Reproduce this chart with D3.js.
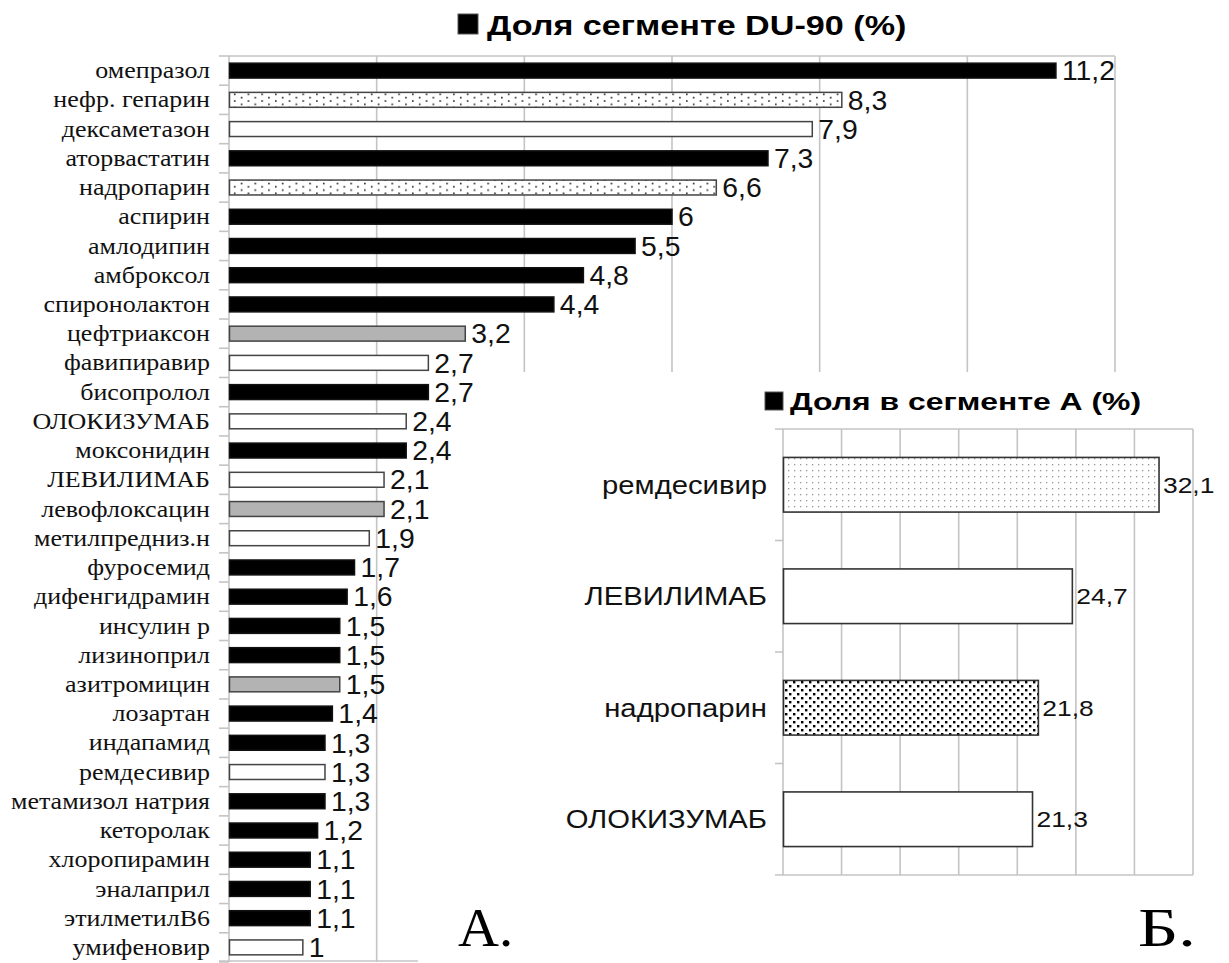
<!DOCTYPE html>
<html><head><meta charset="utf-8">
<script src="https://cdn.jsdelivr.net/npm/d3@7"></script>
<style>body{margin:0;background:#fff}svg{display:block}</style>
</head><body>
<script>
const categories = ["омепразол","нефр. гепарин","дексаметазон","аторвастатин","надропарин","аспирин","амлодипин","амброксол","спиронолактон","цефтриаксон","фавипиравир","бисопролол","ОЛОКИЗУМАБ","моксонидин","ЛЕВИЛИМАБ","левофлоксацин","метилпредниз.н","фуросемид","дифенгидрамин","инсулин р","лизиноприл","азитромицин","лозартан","индапамид","ремдесивир","метамизол натрия","кеторолак","хлоропирамин","эналаприл","этилметилВ6","умифеновир"];
const values = [11.2,8.3,7.9,7.3,6.6,6,5.5,4.8,4.4,3.2,2.7,2.7,2.4,2.4,2.1,2.1,1.9,1.7,1.6,1.5,1.5,1.5,1.4,1.3,1.3,1.3,1.2,1.1,1.1,1.1,1];
const styles = ["black","dots","white","black","dots","black","black","black","black","grey","white","black","white","black","white","grey","white","black","black","black","black","grey","black","black","white","black","black","black","black","black","white"];
const valueLabels = ["11,2","8,3","7,9","7,3","6,6","6","5,5","4,8","4,4","3,2","2,7","2,7","2,4","2,4","2,1","2,1","1,9","1,7","1,6","1,5","1,5","1,5","1,4","1,3","1,3","1,3","1,2","1,1","1,1","1,1","1"];
const xTicks = [0,2,4,6,8,10,12];
const mainTitle = "Доля сегменте DU-90 (%)";

const insetCategories = ["ремдесивир","ЛЕВИЛИМАБ","надропарин","ОЛОКИЗУМАБ"];
const insetValues = [32.1,24.7,21.8,21.3];
const insetStyles = ["lightdots","white","densedots","white"];
const insetLabels = ["32,1","24,7","21,8","21,3"];
const insetTicks = [0,5,10,15,20,25,30,35];
const insetTitle = "Доля в сегменте А (%)";

const W = 1229, H = 963;
const svg = d3.select("body").append("svg").attr("width", W).attr("height", H);
const defs = svg.append("defs");

const p1 = defs.append("pattern").attr("id","dots").attr("patternUnits","userSpaceOnUse").attr("width",13.7).attr("height",6.6);
p1.append("rect").attr("width",13.7).attr("height",6.6).attr("fill","#fff");
p1.append("rect").attr("x",1).attr("y",1.2).attr("width",1.6).attr("height",1.6).attr("fill","#222");
p1.append("rect").attr("x",7.85).attr("y",4.5).attr("width",1.6).attr("height",1.6).attr("fill","#222");

const p2 = defs.append("pattern").attr("id","lightdots").attr("patternUnits","userSpaceOnUse").attr("width",6).attr("height",6);
p2.append("rect").attr("width",6).attr("height",6).attr("fill","#fff");
p2.append("rect").attr("x",2).attr("y",2).attr("width",1.3).attr("height",1.3).attr("fill","#999");

const p3 = defs.append("pattern").attr("id","densedots").attr("patternUnits","userSpaceOnUse").attr("width",8).attr("height",8);
p3.append("rect").attr("width",8).attr("height",8).attr("fill","#fff");
p3.append("rect").attr("x",1).attr("y",1).attr("width",2.4).attr("height",2.4).attr("fill","#000");
p3.append("rect").attr("x",5).attr("y",5).attr("width",2.4).attr("height",2.4).attr("fill","#000");

function fillOf(s){
  return s==="black"?"#000":s==="grey"?"#b3b3b3":s==="white"?"#fff":"url(#"+s+")";
}
function strokeOf(s){ return s==="black"?"#111":"#444"; }
const gridColor = "#c4c4c4";
const SANS = "'Liberation Sans',Arial,sans-serif";
const SERIF = "'Liberation Serif','Times New Roman',serif";

function stretched(sel, xf, yf, sx){
  return sel.attr("transform",(d,i)=>`translate(${xf(d,i)},${yf(d,i)}) scale(${sx},1)`);
}

// ===== Main chart =====
const x = d3.scaleLinear().domain([0,12]).range([229,1115]);
const y = d3.scaleBand().domain(categories).range([56,962]);
const g = svg.append("g");

g.selectAll("line.grid").data(xTicks.slice(1)).join("line")
  .attr("x1", d=>x(d)).attr("x2", d=>x(d)).attr("y1",56).attr("y2",962)
  .attr("stroke",gridColor).attr("stroke-width",1.6);
g.append("line").attr("x1",x(0)).attr("x2",x(12)).attr("y1",56).attr("y2",56).attr("stroke",gridColor).attr("stroke-width",1.6);
g.append("line").attr("x1",219).attr("x2",x(12)).attr("y1",961).attr("y2",961).attr("stroke",gridColor).attr("stroke-width",1.6);
g.append("line").attr("x1",x(0)).attr("x2",x(0)).attr("y1",56).attr("y2",962).attr("stroke",gridColor).attr("stroke-width",1.6);
const bounds = categories.map(c=>y(c)).concat([y.range()[1]]);
g.selectAll("line.tick").data(bounds).join("line")
  .attr("x1",219).attr("x2",x(0)).attr("y1",d=>d).attr("y2",d=>d)
  .attr("stroke",gridColor).attr("stroke-width",1.6);

svg.append("rect").attr("x",418).attr("y",372).attr("width",W-418).attr("height",H-372).attr("fill","#fff");

const bh = y.bandwidth()*0.51;
const mg = svg.append("g");
mg.selectAll("rect.bar").data(categories).join("rect")
  .attr("x", x(0)+0.5)
  .attr("y", d=>y(d)+(y.bandwidth()-bh)/2)
  .attr("width", (d,i)=>x(values[i])-x(0)-0.5)
  .attr("height", bh)
  .attr("fill", (d,i)=>fillOf(styles[i]))
  .attr("stroke", (d,i)=>strokeOf(styles[i]))
  .attr("stroke-width", 1.5);

stretched(mg.selectAll("text.cat").data(categories).join("text"),
    ()=>210, d=>y(d)+y.bandwidth()/2, 1.13)
  .attr("dy","0.33em").attr("text-anchor","end")
  .attr("font-family",SERIF).attr("font-size",23)
  .attr("fill","#111").text(d=>d);

stretched(mg.selectAll("text.val").data(categories).join("text"),
    (d,i)=>x(values[i])+6, d=>y(d)+y.bandwidth()/2, 1.05)
  .attr("dy","0.36em")
  .attr("font-family",SANS).attr("font-size",27)
  .attr("fill","#111").text((d,i)=>valueLabels[i]);

const tg = svg.append("g");
tg.append("rect").attr("x",458).attr("y",14).attr("width",20).attr("height",20).attr("fill","#000").attr("stroke","#555").attr("stroke-width",1);
tg.append("text").attr("transform","translate(487,35) scale(1.22,1)")
  .attr("font-family",SANS).attr("font-weight","bold").attr("font-size",28)
  .attr("fill","#000").text(mainTitle);

// ===== Inset chart =====
const xi = d3.scaleLinear().domain([0,35]).range([783,1193]);
const yi = d3.scaleBand().domain(insetCategories).range([429,875]);
const ig = svg.append("g");
ig.selectAll("line.grid").data(insetTicks.slice(1)).join("line")
  .attr("x1", d=>xi(d)).attr("x2", d=>xi(d)).attr("y1",429).attr("y2",875)
  .attr("stroke",gridColor).attr("stroke-width",1.6);
ig.append("line").attr("x1",xi(0)).attr("x2",xi(0)).attr("y1",429).attr("y2",875).attr("stroke",gridColor).attr("stroke-width",1.6);
ig.append("line").attr("x1",775).attr("x2",xi(35)).attr("y1",429).attr("y2",429).attr("stroke",gridColor).attr("stroke-width",1.6);
ig.append("line").attr("x1",775).attr("x2",xi(35)).attr("y1",875).attr("y2",875).attr("stroke",gridColor).attr("stroke-width",1.6);
const ib = insetCategories.map(c=>yi(c)).slice(1);
ig.selectAll("line.tick").data(ib).join("line")
  .attr("x1",775).attr("x2",xi(0)).attr("y1",d=>d).attr("y2",d=>d)
  .attr("stroke",gridColor).attr("stroke-width",1.6);

const ibh = yi.bandwidth()*0.49;
ig.selectAll("rect.bar").data(insetCategories).join("rect")
  .attr("x", xi(0)+0.5)
  .attr("y", d=>yi(d)+(yi.bandwidth()-ibh)/2)
  .attr("width", (d,i)=>xi(insetValues[i])-xi(0)-0.5)
  .attr("height", ibh)
  .attr("fill", (d,i)=>fillOf(insetStyles[i]))
  .attr("stroke","#333").attr("stroke-width",1.6);

stretched(ig.selectAll("text.cat").data(insetCategories).join("text"),
    ()=>767, d=>yi(d)+yi.bandwidth()/2, 1.17)
  .attr("dy","0.35em").attr("text-anchor","end")
  .attr("font-family",SANS).attr("font-size",25)
  .attr("fill","#111").text(d=>d);

stretched(ig.selectAll("text.val").data(insetCategories).join("text"),
    (d,i)=>xi(insetValues[i])+4, d=>yi(d)+yi.bandwidth()/2, 1.2)
  .attr("dy","0.36em")
  .attr("font-family",SANS).attr("font-size",22)
  .attr("fill","#111").text((d,i)=>insetLabels[i]);

const itg = svg.append("g");
itg.append("rect").attr("x",765).attr("y",392).attr("width",18).attr("height",18).attr("fill","#000").attr("stroke","#555").attr("stroke-width",1);
itg.append("text").attr("transform","translate(790,410) scale(1.33,1)")
  .attr("font-family",SANS).attr("font-weight","bold").attr("font-size",24)
  .attr("fill","#000").text(insetTitle);

svg.append("text").attr("transform","translate(458,946) scale(1.05,1)")
  .attr("font-family",SERIF).attr("font-size",54).attr("fill","#000").text("А.");
svg.append("text").attr("transform","translate(1138,946) scale(1.3,1)")
  .attr("font-family",SERIF).attr("font-size",54).attr("fill","#000").text("Б.");
</script>
</body></html>
